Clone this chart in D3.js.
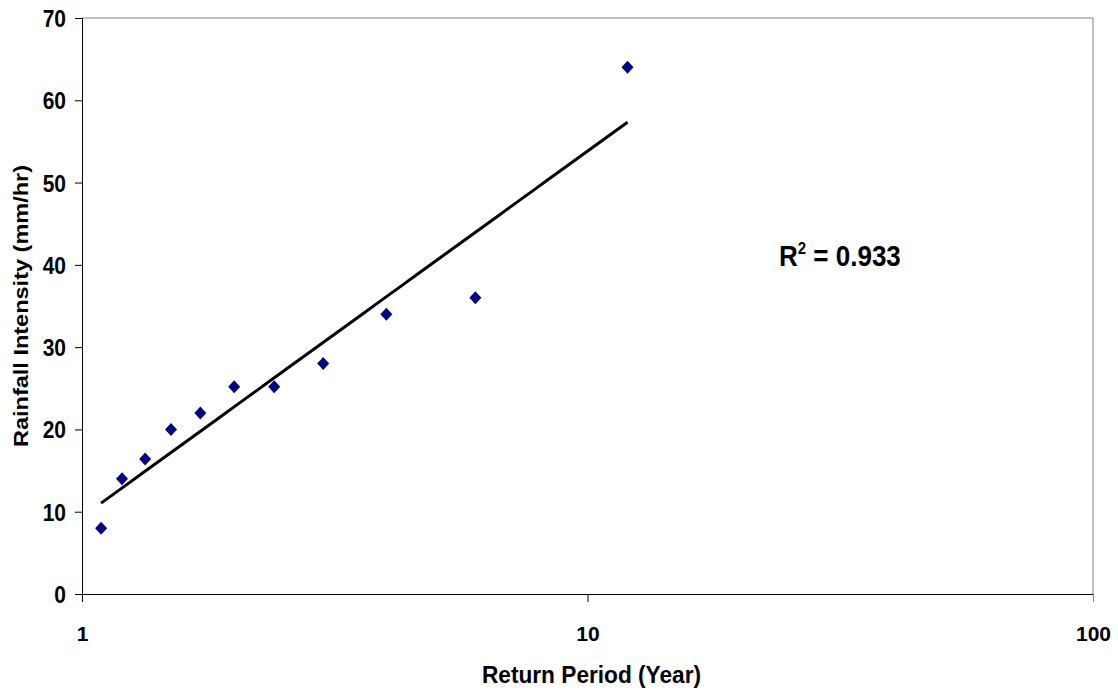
<!DOCTYPE html>
<html>
<head>
<meta charset="utf-8">
<script src="https://cdn.jsdelivr.net/npm/d3@7"></script>
<style>
  html, body { margin: 0; padding: 0; background: #fff; }
  svg text { font-family: "Liberation Sans", Arial, sans-serif; font-weight: bold; fill: #000; }
</style>
</head>
<body>
<svg id="chart" width="1118" height="691"></svg>
<script>
// Return periods (years) and observed rainfall intensities (mm/hr)
const returnPeriod = [12/11, 12/10, 12/9, 12/8, 12/7, 12/6, 12/5, 12/4, 12/3, 12/2, 12/1];
const intensity    = [8, 14, 16.4, 20, 22, 25.2, 25.2, 28, 34, 36, 64];
const xTicks = [1, 10, 100];
const yTicks = [0, 10, 20, 30, 40, 50, 60, 70];
const xTitle = "Return Period (Year)";
const yTitle = "Rainfall Intensity (mm/hr)";
const rSquared = 0.933;

const svg = d3.select("#chart");
const plot = { left: 82, right: 1093, top: 18, bottom: 594 };

const x = d3.scaleLog().domain([1, 100]).range([plot.left, plot.right]);
const y = d3.scaleLinear().domain([0, 70]).range([plot.bottom, plot.top]);

// Plot frame: grey top/right border
svg.append("path")
  .attr("d", `M${plot.left},${plot.top}H${plot.right}V${plot.bottom}`)
  .attr("fill", "none").attr("stroke", "#808080").attr("stroke-width", 1);

// Y axis
const yAxis = svg.append("g").attr("transform", `translate(${plot.left},0)`)
  .call(d3.axisLeft(y).tickValues(yTicks).tickSize(7).tickPadding(9).tickFormat(d3.format("d")));
yAxis.select(".domain").attr("stroke", "#000");
yAxis.selectAll(".tick text")
  .attr("font-size", 21).attr("font-family", null)
  .attr("dy", "0.36em")
  .attr("transform", "scale(1,1.12)");

// X axis
const xAxis = svg.append("g").attr("transform", `translate(0,${plot.bottom})`)
  .call(d3.axisBottom(x).tickValues(xTicks).tickSize(8).tickPadding(24).tickFormat(d3.format("d")));
xAxis.select(".domain").attr("stroke", "#000");
xAxis.selectAll(".tick text").attr("font-size", 21).attr("font-family", null);
xAxis.selectAll(".tick").filter(d => d === 100).select("line").attr("stroke", "#808080");

// Axis titles
svg.append("text")
  .attr("transform", `translate(${(plot.left + plot.right) / 2 + 4},683) scale(1.08,1.15)`)
  .attr("text-anchor", "middle").attr("font-size", 21)
  .text(xTitle);

svg.append("text")
  .attr("transform", `translate(28,${(plot.top + plot.bottom) / 2}) rotate(-90) scale(1.12,1)`)
  .attr("text-anchor", "middle").attr("font-size", 21)
  .text(yTitle);

// Logarithmic least-squares trend line: y = a ln(x) + b
const lx = returnPeriod.map(Math.log);
const mx = d3.mean(lx), my = d3.mean(intensity);
const sxy = d3.sum(lx, (v, i) => (v - mx) * (intensity[i] - my));
const sxx = d3.sum(lx, v => (v - mx) ** 2);
const slope = sxy / sxx, intercept = my - slope * mx;

const xMin = d3.min(returnPeriod), xMax = d3.max(returnPeriod);
const trend = d3.range(0, 41).map(i => {
  const xv = Math.exp(Math.log(xMin) + (Math.log(xMax) - Math.log(xMin)) * i / 40);
  return [xv, slope * Math.log(xv) + intercept];
});
svg.append("path")
  .datum(trend)
  .attr("d", d3.line().x(d => x(d[0])).y(d => y(d[1])))
  .attr("fill", "none").attr("stroke", "#000").attr("stroke-width", 3);

// Observed points (navy diamonds)
svg.append("g").selectAll("path")
  .data(returnPeriod.map((r, i) => [r, intensity[i]]))
  .join("path")
  .attr("transform", d => `translate(${x(d[0])},${y(d[1])})`)
  .attr("d", "M0,-6.5L6,0L0,6.5L-6,0Z")
  .attr("fill", "#000080");

// R² annotation
const r2Text = svg.append("text")
  .attr("transform", "translate(779,266) scale(1,1.1)")
  .attr("font-size", 26);
r2Text.append("tspan").text("R");
r2Text.append("tspan").attr("font-size", 15).attr("dy", -11).text("2");
r2Text.append("tspan").attr("dy", 11).text(" = " + rSquared.toFixed(3));
</script>
</body>
</html>
